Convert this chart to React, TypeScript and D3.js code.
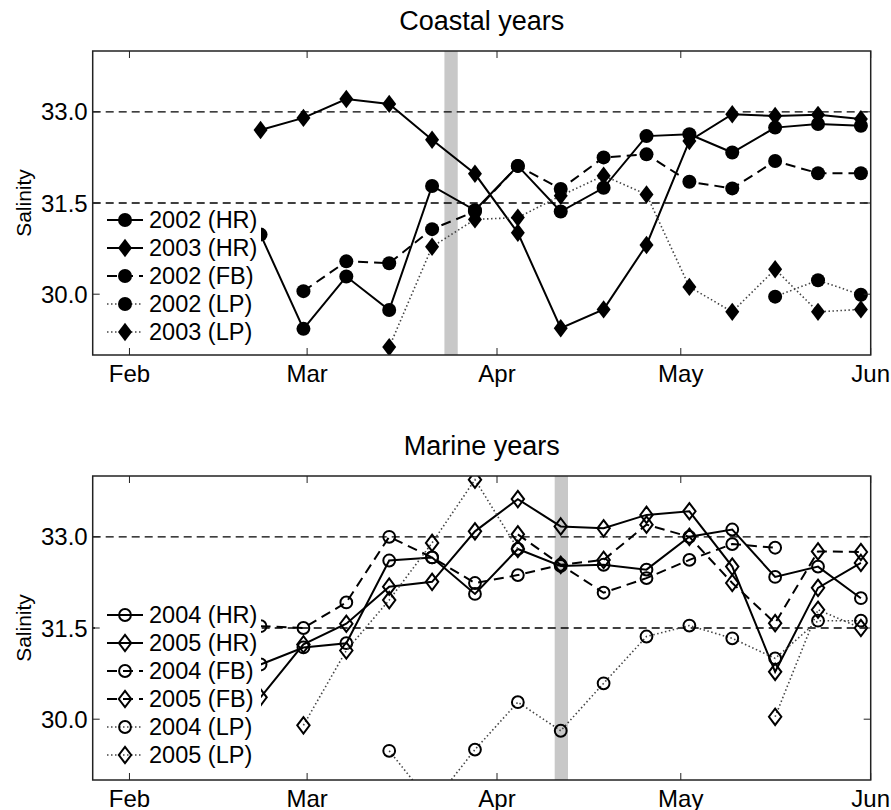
import React from 'react';
import * as d3 from 'd3';

// sampling days, day of year (Jan 1 = 0, leap-year calendar)
const sampleDays = [52.4, 59.4, 66.4, 73.4, 80.4, 87.4, 94.4, 101.4, 108.4, 115.4, 122.4, 129.4, 136.4, 143.4, 150.4];

const monthTicks = [31, 60, 91, 121, 152];
const monthLabels = ['Feb', 'Mar', 'Apr', 'May', 'Jun'];
const salinityTicks = [30, 31.5, 33];
const salinityLabels = ['30.0', '31.5', '33.0'];
const refLevels = [31.5, 33];

// coastal years
const hr2002 = [30.98, 29.43, 30.29, 29.74, 31.78, 31.38, 32.11, 31.36, 31.75, 32.6, 32.63, 32.33, 32.74, 32.8, 32.77];
const hr2003 = [32.7, 32.9, 33.21, 33.13, 32.54, 31.98, 31.01, 29.44, 29.75, 30.81, 32.52, 32.96, 32.93, 32.95, 32.88];
const fb2002 = [null, 30.05, 30.54, 30.51, 31.07, 31.36, 32.11, 31.73, 32.25, 32.3, 31.85, 31.74, 32.19, 31.99, 31.99];
const lp2002 = [null, null, null, null, null, null, null, null, null, null, null, null, 29.96, 30.23, 29.99];
const lp2003 = [null, null, null, 29.13, 30.78, 31.23, 31.26, 31.62, 31.95, 31.64, 30.12, 29.71, 30.41, 29.71, 29.75];

// marine years
const hr2004 = [30.9, 31.18, 31.25, 32.61, 32.66, 32.06, 32.8, 32.52, 32.54, 32.46, 33.0, 33.12, 32.34, 32.51, 31.99];
const hr2005 = [30.36, 31.23, 31.57, 32.18, 32.26, 33.09, 33.62, 33.17, 33.14, 33.36, 33.42, 32.51, 30.78, 32.16, 32.57];
const fb2004 = [31.53, 31.5, 31.92, 33.0, 32.66, 32.24, 32.37, 32.54, 32.08, 32.32, 32.62, 32.88, 32.82, null, null];
const fb2005 = [null, null, null, null, null, null, 33.04, 32.54, 32.62, 33.2, 33.0, 32.24, 31.58, 32.76, 32.75];
const lp2004 = [null, null, null, 29.48, 28.6, 29.5, 30.28, 29.81, 30.59, 31.36, 31.54, 31.33, 31.0, 31.62, 31.62];
const lp2005 = [null, 29.9, 31.13, 31.96, 32.9, 33.94, 32.8, null, null, null, null, null, 30.04, 31.8, 31.5];

// shaded event days
const coastalBarDay = 83.5;
const marineBarDay = 101.5;
const barWidthDays = 2.17;

type Series = {
  label: string;
  values: (number | null)[];
  style: 'solid' | 'dashed' | 'dotted';
  marker: 'circle' | 'diamond';
  filled: boolean;
};

const coastalSeries: Series[] = [
  { label: '2002 (HR)', values: hr2002, style: 'solid', marker: 'circle', filled: true },
  { label: '2003 (HR)', values: hr2003, style: 'solid', marker: 'diamond', filled: true },
  { label: '2002 (FB)', values: fb2002, style: 'dashed', marker: 'circle', filled: true },
  { label: '2002 (LP)', values: lp2002, style: 'dotted', marker: 'circle', filled: true },
  { label: '2003 (LP)', values: lp2003, style: 'dotted', marker: 'diamond', filled: true },
];

const marineSeries: Series[] = [
  { label: '2004 (HR)', values: hr2004, style: 'solid', marker: 'circle', filled: false },
  { label: '2005 (HR)', values: hr2005, style: 'solid', marker: 'diamond', filled: false },
  { label: '2004 (FB)', values: fb2004, style: 'dashed', marker: 'circle', filled: false },
  { label: '2005 (FB)', values: fb2005, style: 'dashed', marker: 'diamond', filled: false },
  { label: '2004 (LP)', values: lp2004, style: 'dotted', marker: 'circle', filled: false },
  { label: '2005 (LP)', values: lp2005, style: 'dotted', marker: 'diamond', filled: false },
];

const FONT = '"Liberation Sans", Arial, Helvetica, sans-serif';
const left = 92.7;
const right = 870.7;
const panelH = 304;

function lineStyle(style: Series['style']) {
  if (style === 'dashed') return { stroke: '#000', width: 2, dash: '10,6' };
  if (style === 'dotted') return { stroke: '#444', width: 1.6, dash: '1.5,2.5' };
  return { stroke: '#000', width: 2, dash: undefined };
}

function Marker({ cx, cy, s }: { cx: number; cy: number; s: Series }) {
  if (s.marker === 'circle') {
    return s.filled
      ? <circle cx={cx} cy={cy} r={7} fill="#000" />
      : <circle cx={cx} cy={cy} r={5.9} fill="none" stroke="#000" strokeWidth={2} />;
  }
  const hw = s.filled ? 7 : 6.2;
  const hh = s.filled ? 9.2 : 8.2;
  const d = `M${cx},${cy - hh}L${cx + hw},${cy}L${cx},${cy + hh}L${cx - hw},${cy}Z`;
  return s.filled
    ? <path d={d} fill="#000" />
    : <path d={d} fill="none" stroke="#000" strokeWidth={2} />;
}

function Panel({ top, title, series, barDay, id, legendTop }: {
  top: number; title: string; series: Series[]; barDay: number; id: string; legendTop: number;
}) {
  const x = d3.scaleLinear().domain([25, 152]).range([left, right]);
  const y = d3.scaleLinear().domain([29, 34]).range([top + panelH, top]);
  const bottom = top + panelH;
  const line = d3.line<[number, number | null]>()
    .defined(d => d[1] != null)
    .x(d => x(d[0]))
    .y(d => y(d[1] as number));

  const rowH = 28;

  return (
    <g>
      <defs>
        <clipPath id={id}>
          <rect x={left} y={top} width={right - left} height={panelH} />
        </clipPath>
      </defs>
      <rect x={left} y={top} width={right - left} height={panelH} fill="#fff" />
      <rect
        x={x(barDay - barWidthDays / 2)}
        y={top}
        width={x(barDay + barWidthDays / 2) - x(barDay - barWidthDays / 2)}
        height={panelH}
        fill="#c8c8c8"
      />
      {refLevels.map(v => (
        <line key={v} x1={left} x2={right} y1={y(v)} y2={y(v)} stroke="#000" strokeWidth={1.3} strokeDasharray="8,5" />
      ))}
      <g clipPath={`url(#${id})`}>
        {series.map(s => {
          const ls = lineStyle(s.style);
          const pts = sampleDays.map((d, i) => [d, s.values[i]] as [number, number | null]);
          return (
            <g key={s.label}>
              <path d={line(pts) || ''} fill="none" stroke={ls.stroke} strokeWidth={ls.width} strokeDasharray={ls.dash} />
              {pts.filter(p => p[1] != null).map((p, i) => (
                <Marker key={i} cx={x(p[0])} cy={y(p[1] as number)} s={s} />
              ))}
            </g>
          );
        })}
      </g>

      {/* legend */}
      <rect x={95} y={legendTop - 14} width={166} height={series.length * rowH} fill="#fff" />
      {series.map((s, i) => {
        const ly = legendTop + i * rowH;
        const ls = lineStyle(s.style);
        return (
          <g key={s.label}>
            <line x1={107} x2={143} y1={ly} y2={ly} stroke={ls.stroke} strokeWidth={ls.width} strokeDasharray={ls.dash} />
            <Marker cx={125} cy={ly} s={s} />
            <text x={149} y={ly} dy="0.36em" fontFamily={FONT} fontSize={23.5}>{s.label}</text>
          </g>
        );
      })}

      {/* axes box and ticks */}
      <rect x={left} y={top} width={right - left} height={panelH} fill="none" stroke="#222" strokeWidth={1.5} />
      {monthTicks.map((t, i) => (
        <g key={t}>
          <line x1={x(t)} x2={x(t)} y1={top} y2={top + 7} stroke="#222" strokeWidth={1} />
          <line x1={x(t)} x2={x(t)} y1={bottom} y2={bottom - 7} stroke="#222" strokeWidth={1} />
          <text x={x(t)} y={bottom + 26.5} textAnchor="middle" fontFamily={FONT} fontSize={24}>{monthLabels[i]}</text>
        </g>
      ))}
      {salinityTicks.map((t, i) => (
        <g key={t}>
          <line x1={left} x2={left + 7} y1={y(t)} y2={y(t)} stroke="#222" strokeWidth={1} />
          <line x1={right} x2={right - 7} y1={y(t)} y2={y(t)} stroke="#222" strokeWidth={1} />
          <text x={left - 5} y={y(t)} dy="0.36em" textAnchor="end" fontFamily={FONT} fontSize={24}>{salinityLabels[i]}</text>
        </g>
      ))}
      <text x={(left + right) / 2} y={top - 21} textAnchor="middle" fontFamily={FONT} fontSize={27}>{title}</text>
      <text
        transform={`translate(31,${top + panelH / 2}) rotate(-90)`}
        textAnchor="middle"
        fontFamily={FONT}
        fontSize={21}
      >Salinity</text>
    </g>
  );
}

export default function App() {
  return (
    <svg width={891} height={810} style={{ position: 'absolute', left: 0, top: 0, background: '#fff' }}>
      <rect width={891} height={810} fill="#fff" />
      <Panel top={51} title="Coastal years" series={coastalSeries} barDay={coastalBarDay} id="clipCoastal" legendTop={220} />
      <Panel top={476} title="Marine years" series={marineSeries} barDay={marineBarDay} id="clipMarine" legendTop={615} />
    </svg>
  );
}
